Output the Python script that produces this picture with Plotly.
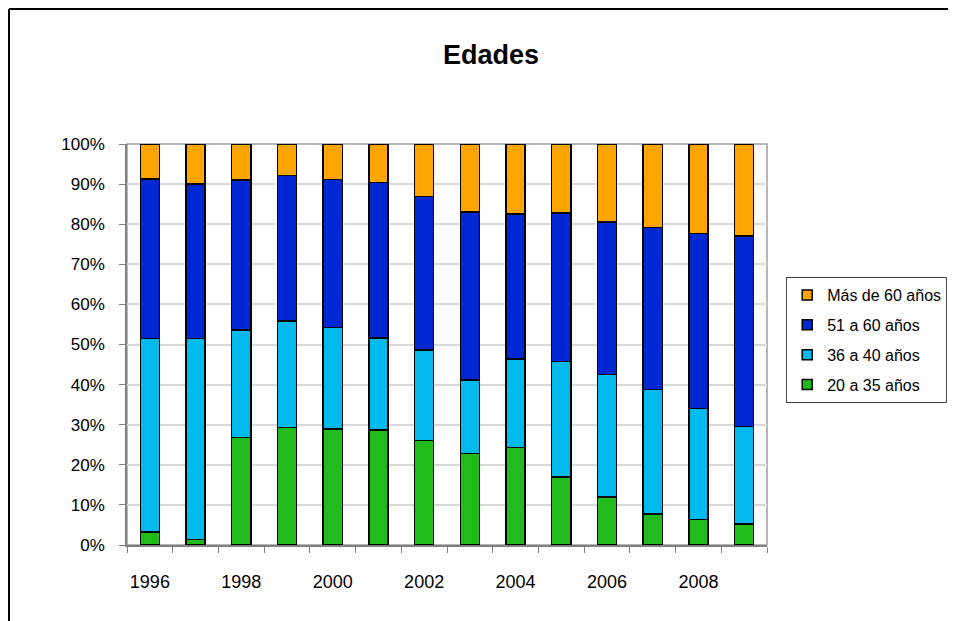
import plotly.graph_objects as go

years = [1996, 1997, 1998, 1999, 2000, 2001, 2002, 2003, 2004, 2005, 2006, 2007, 2008, 2009]
g20_35 = [3.2, 1.4, 26.8, 29.3, 28.9, 28.7, 26.0, 22.8, 24.3, 17.0, 12.0, 7.7, 6.4, 5.2]
g36_40 = [48.3, 50.1, 26.8, 26.6, 25.4, 22.9, 22.6, 18.3, 22.1, 28.8, 30.5, 31.1, 27.7, 24.3]
g51_60 = [39.8, 38.5, 37.4, 36.2, 36.9, 38.8, 38.3, 41.9, 36.1, 37.0, 38.1, 40.4, 43.6, 47.6]
g60p = [8.7, 10.0, 9.0, 7.9, 8.8, 9.6, 13.1, 17.0, 17.5, 17.2, 19.4, 20.8, 22.3, 22.9]

series = [
    ("20 a 35 años", g20_35, "#22BB1E"),
    ("36 a 40 años", g36_40, "#00BAEE"),
    ("51 a 60 años", g51_60, "#0028D2"),
    ("Más de 60 años", g60p, "#FFA500"),
]
tick_years = [1996, 1998, 2000, 2002, 2004, 2006, 2008]

fig = go.Figure()
for name, vals, col in series:
    fig.add_trace(go.Bar(
        x=years, y=vals, name=name, width=0.42, showlegend=False,
        marker=dict(color=col, line=dict(color="black", width=1.5)),
    ))
for i, (name, vals, col) in enumerate(series):
    fig.add_trace(go.Scatter(
        x=[None], y=[None], mode="markers", name=name, legendgroup=name,
        legendrank=len(series) - i,
        marker=dict(symbol="square", size=10, color=col, line=dict(color="black", width=1.5)),
    ))

W, H = 948, 613
fig.update_layout(
    barmode="stack",
    width=W, height=H,
    margin=dict(l=119, r=W - 119 - 640, t=136, b=H - 136 - 401, autoexpand=False),
    paper_bgcolor="white", plot_bgcolor="white",
    font=dict(family="Liberation Sans, Arial, sans-serif", size=17, color="black"),
    title=dict(text="<b>Edades</b>", x=483 / W, xref="container", xanchor="center",
               y=1 - 47 / H, yanchor="middle", yref="container",
               font=dict(size=27, color="black")),
    showlegend=True,
    legend=dict(x=1.03, xanchor="left", y=0.668, yanchor="top",
                bordercolor="#444444", borderwidth=1, bgcolor="white",
                font=dict(size=16), itemwidth=30, tracegroupgap=6),
    xaxis=dict(range=[1995.5, 2009.5], tickmode="array", tickvals=tick_years,
               ticktext=[str(y) for y in tick_years], ticks="", showgrid=False,
               showline=True, linecolor="#808080", linewidth=1.5, mirror=False,
               zeroline=False, ticklabelstandoff=20, tickfont=dict(size=18),
               minor=dict(ticks="outside", tick0=1995.5, dtick=1, ticklen=6,
                          tickcolor="#808080", showgrid=False)),
    yaxis=dict(range=[0, 100], tickvals=list(range(0, 101, 10)),
               ticktext=[f"{v}%" for v in range(0, 101, 10)],
               ticks="outside", ticklen=6, tickcolor="#808080",
               showgrid=True, gridcolor="#D9D9D9", gridwidth=1.5,
               showline=True, linecolor="#808080", linewidth=1.5,
               zeroline=False, ticklabelstandoff=11),
    shapes=[
        dict(type="rect", xref="paper", yref="paper", x0=0, x1=1, y0=0, y1=1,
             line=dict(color="#A0A0A0", width=1.5), fillcolor="rgba(0,0,0,0)", layer="below"),
        dict(type="line", xref="paper", yref="paper", x0=-118 / 640, x1=-118 / 640,
             y0=135 / 401 + 1, y1=-0.3, line=dict(color="black", width=2)),
        dict(type="line", xref="paper", yref="paper", x0=-118 / 640, x1=1.5,
             y0=135 / 401 + 1, y1=135 / 401 + 1, line=dict(color="black", width=2)),
    ],
)

fig.write_html("out.html")
